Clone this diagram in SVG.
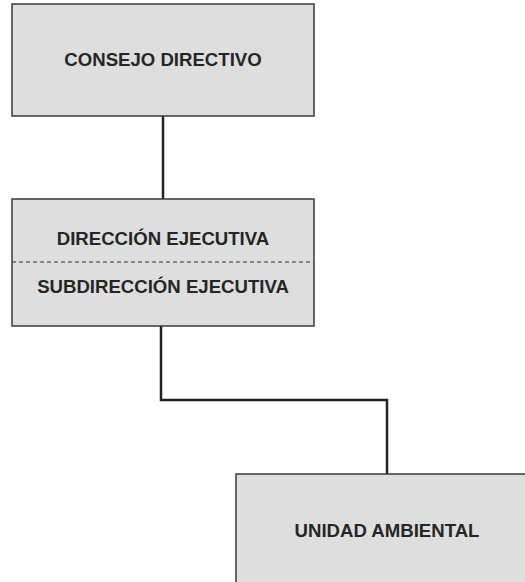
<svg xmlns="http://www.w3.org/2000/svg" width="525" height="582" viewBox="0 0 525 582">
<style>
.box{fill:#dedede;stroke:#3a3a3a;stroke-width:1.5}
.lbl{font-family:"Liberation Sans",Arial,sans-serif;font-weight:bold;font-size:18.6px;fill:#262626;text-anchor:middle}
.conn{fill:none;stroke:#222;stroke-width:2.5}
.sep{stroke:#333;stroke-width:1;stroke-dasharray:4,3}
</style>
<rect width="525" height="582" fill="#ffffff"/>
<g id="connectors">
<path class="conn" d="M163,116 V199"/>
<path class="conn" d="M161,326 V400 H387 V474"/>
</g>
<g id="consejo">
<rect class="box" x="12" y="4" width="302" height="112"/>
<text class="lbl" x="163" y="66">CONSEJO DIRECTIVO</text>
</g>
<g id="direccion">
<rect class="box" x="12" y="199" width="302" height="127"/>
<line class="sep" x1="12" y1="262" x2="314" y2="262"/>
<text class="lbl" x="163" y="245">DIRECCIÓN EJECUTIVA</text>
<text class="lbl" x="163" y="293">SUBDIRECCIÓN EJECUTIVA</text>
</g>
<g id="unidad">
<rect class="box" x="236" y="474" width="300" height="120"/>
<text class="lbl" x="387" y="537">UNIDAD AMBIENTAL</text>
</g>
</svg>
